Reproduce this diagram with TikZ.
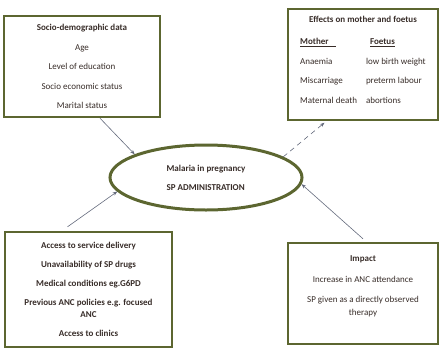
\documentclass[tikz,border=0pt]{standalone}
\usepackage{fontspec}
\setmainfont{Carlito}
\usetikzlibrary{shapes.geometric, arrows.meta}

\definecolor{olive}{RGB}{92,102,48}
\definecolor{ink}{RGB}{55,44,40}
\definecolor{link}{RGB}{100,106,124}

\tikzset{
  box/.style={draw=olive, line width=2.4pt, inner sep=0pt, align=center,
    text=ink, font=\fontsize{9}{19.5}\selectfont},
  ell/.style={ellipse, draw=olive, line width=3pt, inner sep=0pt, align=left,
    text=ink, font=\bfseries\fontsize{9}{19}\selectfont},
  conn/.style={draw=link, line width=0.6pt, -{Stealth[length=4.5pt,width=3.5pt]}}
}

\begin{document}
\begin{tikzpicture}[x=1pt, y=-1pt]
    \useasboundingbox (0,0) rectangle (440,349);

    \node[box, minimum width=156pt, minimum height=101pt] (1) at (82,66.5)
        {\textbf{Socio-demographic data}\\Age\\Level of education\\Socio economic status\\Marital status};
    \node[box, minimum width=150pt, minimum height=107pt] (2) at (363,64.5)
        {\begin{tabular}{@{}l@{\hspace{9pt}}l@{}}
          \multicolumn{2}{c}{\textbf{Effects on mother and foetus}}\\[3pt]
          \textbf{\underline{Mother\hspace{7pt}}} & \hspace{4pt}\textbf{\underline{Foetus}}\\
          Anaemia & low birth weight\\
          Miscarriage & preterm labour\\
          Maternal death & abortions\\[11pt]
        \end{tabular}};
    \node[box, minimum width=167pt, minimum height=115pt, font=\bfseries\fontsize{9}{19}\selectfont] (3) at (88.5,289.5)
        {Access to service delivery\\Unavailability of SP drugs\\Medical conditions eg.G6PD\\Previous ANC policies e.g. focused\\[-6.5pt]ANC\\Access to clinics};
    \node[box, minimum width=150pt, minimum height=101pt] (4) at (363,293.5)
        {\textbf{Impact}\\[1.5pt]Increase in ANC attendance\\SP given as a directly observed\\[-6.5pt]therapy\\[-4pt]};
    \node[ell, minimum width=192pt, minimum height=65pt] (5) at (206,177.5)
        {Malaria in pregnancy\\SP ADMINISTRATION};

    \draw[conn] ([xshift=18pt]1.south) -- (5.162);
    \draw[conn] ([xshift=-21pt, yshift=4pt]3.north) -- (5.189);
    \draw[conn] ([yshift=3pt]4.north) -- (5.-4);
    \draw[conn, dash pattern=on 5pt off 4pt, shorten >=2pt] (5.15) -- ([xshift=-37pt]2.south);
\end{tikzpicture}
\end{document}
